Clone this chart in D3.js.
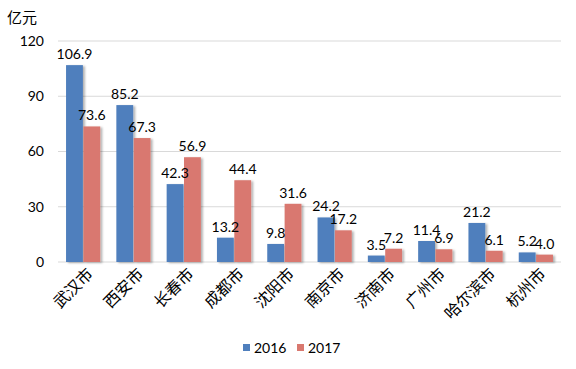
<!DOCTYPE html>
<html>
<head>
<meta charset="utf-8">
<script src="https://cdn.jsdelivr.net/npm/d3@7/dist/d3.min.js"></script>
<style>
  body { margin: 0; background: #fff; }
  text { font-family: Lato, "Noto Sans CJK SC", sans-serif; fill: #000; }
  .cjk { font-family: "Noto Sans CJK SC", sans-serif; }
</style>
</head>
<body>
<svg id="chart" width="576" height="369"></svg>
<script>
// Data
const cities = ['武汉市', '西安市', '长春市', '成都市', '沈阳市', '南京市', '济南市', '广州市', '哈尔滨市', '杭州市'];
const values2016 = [106.9, 85.2, 42.3, 13.2, 9.8, 24.2, 3.5, 11.4, 21.2, 5.2];
const values2017 = [73.6, 67.3, 56.9, 44.4, 31.6, 17.2, 7.2, 6.9, 6.1, 4.0];
const seriesNames = ['2016', '2017'];
const yTicks = [0, 30, 60, 90, 120];

const colors = ['#4F7FBD', '#D9786F'];

const svg = d3.select('#chart');
const margins = { top: 41, left: 58, right: 15, bottom: 107 };
const width = 576 - margins.left - margins.right;
const height = 369 - margins.top - margins.bottom;

// Shadow for bars
const defs = svg.append('defs');
const f = defs.append('filter').attr('id', 'shadow')
  .attr('x', '-20%').attr('y', '-20%').attr('width', '160%').attr('height', '140%');
f.append('feDropShadow').attr('dx', 2).attr('dy', 1).attr('stdDeviation', 1.2)
  .attr('flood-color', '#000').attr('flood-opacity', 0.3);

const g = svg.append('g').attr('transform', `translate(${margins.left},${margins.top})`);

const x = d3.scaleBand().domain(cities).range([0, width]).paddingInner(0.32).paddingOuter(0.16);
const x1 = d3.scaleBand().domain(seriesNames).range([0, x.bandwidth()]).paddingInner(0.03);
const y = d3.scaleLinear().domain([0, 120]).range([height, 0]);

// Gridlines
g.append('g')
  .selectAll('line')
  .data(yTicks)
  .join('line')
  .attr('x1', 0).attr('x2', width)
  .attr('y1', d => y(d)).attr('y2', d => y(d))
  .attr('stroke', '#D9D9D9').attr('stroke-width', 1);

// Y axis labels
g.append('g')
  .selectAll('text')
  .data(yTicks)
  .join('text')
  .attr('x', -14).attr('y', d => y(d))
  .attr('dy', '0.35em')
  .attr('text-anchor', 'end')
  .style('font-size', '14px')
  .text(d => d);

// Unit label
svg.append('text').attr('class', 'cjk')
  .attr('x', 7).attr('y', 23)
  .style('font-size', '15px')
  .text('亿元');

// Bars
const rows = cities.map((c, i) => ({ city: c, values: [values2016[i], values2017[i]] }));
const groups = g.selectAll('.grp')
  .data(rows)
  .join('g')
  .attr('class', 'grp')
  .attr('transform', d => `translate(${x(d.city)},0)`);

groups.selectAll('rect')
  .data(d => d.values.map((v, k) => ({ key: seriesNames[k], v, k })))
  .join('rect')
  .attr('x', d => x1(d.key))
  .attr('width', x1.bandwidth())
  .attr('y', d => y(d.v))
  .attr('height', d => height - y(d.v))
  .attr('fill', d => colors[d.k])
  .attr('filter', 'url(#shadow)');

groups.selectAll('text.val')
  .data(d => d.values.map((v, k) => ({ key: seriesNames[k], v, k })))
  .join('text')
  .attr('class', 'val')
  .attr('x', d => x1(d.key) + x1.bandwidth() / 2)
  .attr('y', d => y(d.v) - 6)
  .attr('text-anchor', 'middle')
  .style('font-size', '14px')
  .text(d => d.v.toFixed(1));

// Category labels
g.append('g')
  .selectAll('text')
  .data(cities)
  .join('text')
  .attr('class', 'cjk')
  .attr('text-anchor', 'end')
  .attr('transform', d => `translate(${x(d) + x.bandwidth() / 2 + 11},${height + 13}) rotate(-45)`)
  .style('font-size', '16px')
  .text(d => d);

// Legend
const legend = svg.append('g').attr('transform', 'translate(243,348)');
seriesNames.forEach((s, i) => {
  const lg = legend.append('g').attr('transform', `translate(${i * 54},0)`);
  lg.append('rect').attr('x', 0).attr('y', -4).attr('width', 7).attr('height', 7).attr('fill', colors[i]);
  lg.append('text').attr('x', 11).attr('y', 0).attr('dy', '0.35em').style('font-size', '14px').text(s);
});
</script>
</body>
</html>
